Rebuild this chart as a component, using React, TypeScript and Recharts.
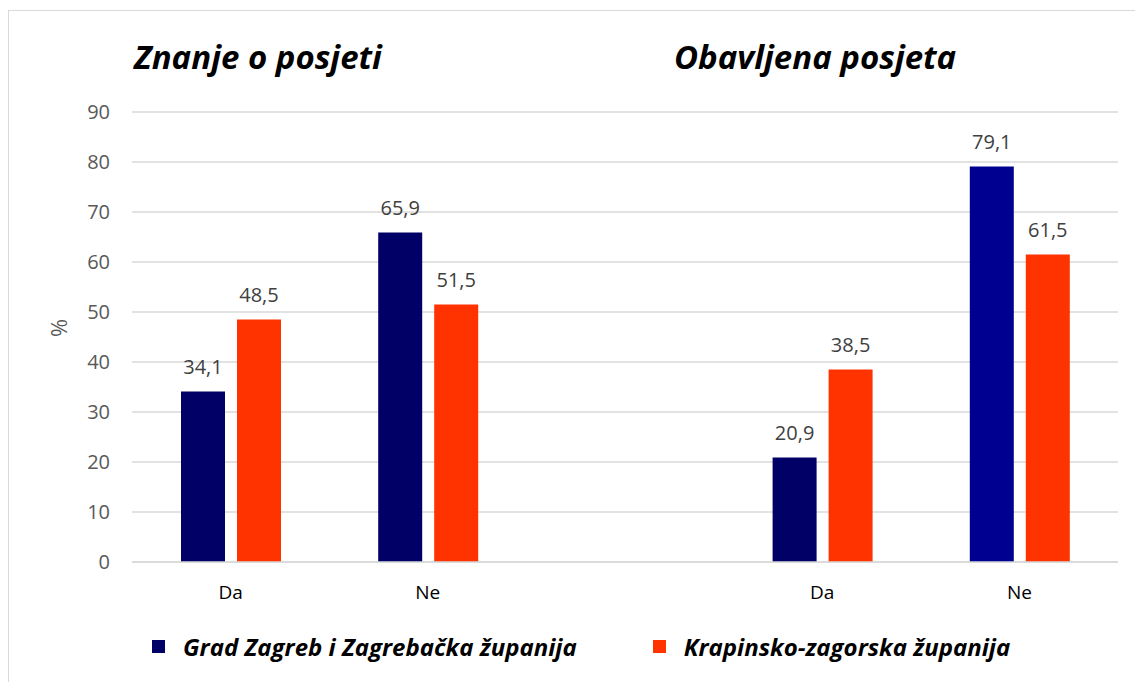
import React from 'react';
import { BarChart, Bar, XAxis, YAxis, CartesianGrid, LabelList, Cell } from 'recharts';

const categories = ['Da', 'Ne', '', 'Da', 'Ne'];
const zagreb = [34.1, 65.9, null, 20.9, 79.1];
const krapina = [48.5, 51.5, null, 38.5, 61.5];
const yTicks = [0, 10, 20, 30, 40, 50, 60, 70, 80, 90];
const groupTitles = ['Znanje o posjeti', 'Obavljena posjeta'];
const seriesNames = ['Grad Zagreb i Zagrebačka županija', 'Krapinsko-zagorska županija'];

const NAVY = ['#000066', '#000066', '#000066', '#000066', '#000090'];
const ORANGE = '#FF3300';
const FONT = '"Open Sans", Lato, sans-serif';

const data = categories.map((c, i) => ({ cat: c, zagreb: zagreb[i], krapina: krapina[i] }));

const fmt = (v: any) => (v == null ? '' : Number(v).toFixed(1).replace('.', ','));

const App = () => {
  return (
    <div style={{ position: 'absolute', left: 0, top: 0, width: 1135, height: 682, background: '#fff', fontFamily: FONT }}>
      <div style={{ position: 'absolute', left: 8, top: 10, width: 1140, height: 700, border: '1.5px solid #d9d9d9' }} />
      <BarChart
        width={1135}
        height={682}
        data={data}
        margin={{ top: 112, right: 17, bottom: 90, left: 60 }}
        barSize={44}
        barGap={12}
      >
        <CartesianGrid vertical={false} stroke="#d9d9d9" strokeWidth={1.5} />
        <XAxis
          dataKey="cat"
          height={30}
          axisLine={{ stroke: '#d9d9d9', strokeWidth: 1.5 }}
          tickLine={false}
          tickMargin={18}
          tick={{ fill: '#000', fontSize: 19, fontFamily: FONT }}
        />
        <YAxis
          width={72}
          domain={[0, 90]}
          ticks={yTicks}
          axisLine={false}
          tickLine={false}
          tickSize={0}
          tickMargin={22}
          tick={{ fill: '#595959', fontSize: 20, fontFamily: FONT }}
          label={{ value: '%', angle: -90, position: 'insideLeft', dx: -6, fill: '#595959', fontSize: 22, fontFamily: FONT }}
        />
        <Bar dataKey="zagreb" name={seriesNames[0]} fill={NAVY[0]} isAnimationActive={false}>
          {data.map((_d, i) => (
            <Cell key={`z-${i}`} fill={NAVY[i]} />
          ))}
          <LabelList dataKey="zagreb" position="top" offset={18} formatter={fmt} fill="#404040" fontSize={20} fontFamily={FONT} />
        </Bar>
        <Bar dataKey="krapina" name={seriesNames[1]} fill={ORANGE} isAnimationActive={false}>
          <LabelList dataKey="krapina" position="top" offset={18} formatter={fmt} fill="#404040" fontSize={20} fontFamily={FONT} />
        </Bar>
      </BarChart>
      {/* group titles */}
      <div style={{ position: 'absolute', left: 134, top: 34, fontSize: 33, fontWeight: 700, fontStyle: 'italic', color: '#000', whiteSpace: 'nowrap' }}>
        {groupTitles[0]}
      </div>
      <div style={{ position: 'absolute', left: 674, top: 34, fontSize: 33, fontWeight: 700, fontStyle: 'italic', color: '#000', whiteSpace: 'nowrap' }}>
        {groupTitles[1]}
      </div>
      {/* legend */}
      <div style={{ position: 'absolute', left: 152, top: 630, display: 'flex', alignItems: 'center', fontSize: 24, fontWeight: 700, fontStyle: 'italic', color: '#000', whiteSpace: 'nowrap' }}>
        <span style={{ display: 'inline-block', width: 13, height: 13, background: NAVY[0], marginRight: 18 }} />
        <span>{seriesNames[0]}</span>
        <span style={{ display: 'inline-block', width: 13, height: 13, background: ORANGE, marginLeft: 76, marginRight: 18 }} />
        <span>{seriesNames[1]}</span>
      </div>
    </div>
  );
};

export default App;
